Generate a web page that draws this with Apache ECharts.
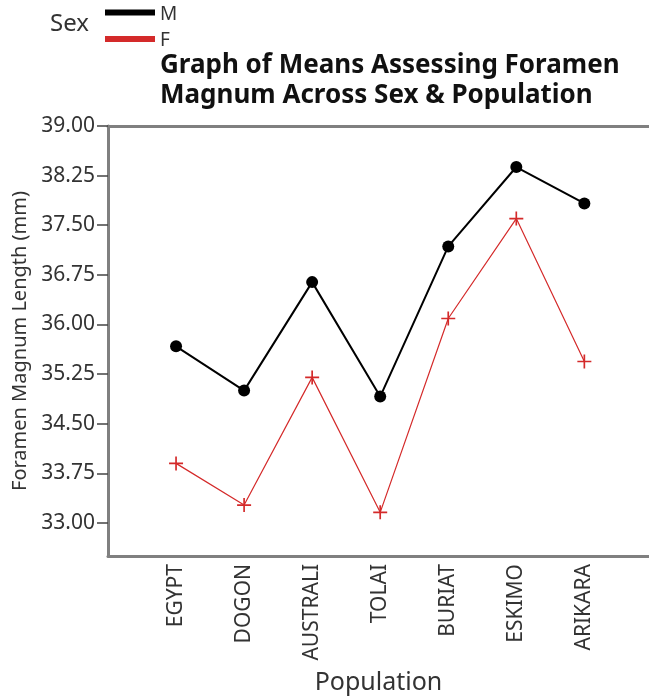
<!DOCTYPE html>
<html>
<head>
<meta charset="utf-8">
<style>
  html, body { margin: 0; padding: 0; background: #fff; }
  #chart { width: 649px; height: 698px; }
</style>
<script src="https://cdn.jsdelivr.net/npm/echarts@6/dist/echarts.min.js"></script>
</head>
<body>
<div id="chart"></div>
<script>
// Mean foramen magnum length (mm) by population, split by sex
const populations = ['EGYPT', 'DOGON', 'AUSTRALI', 'TOLAI', 'BURIAT', 'ESKIMO', 'ARIKARA'];
const maleMeans = [35.67, 35.00, 36.64, 34.91, 37.18, 38.38, 37.83];
const femaleMeans = [33.90, 33.27, 35.20, 33.16, 36.09, 37.60, 35.44];
const yTicks = [33.00, 33.75, 34.50, 35.25, 36.00, 36.75, 37.50, 38.25, 39.00];
const sexLabels = ['M', 'F'];

const FONT = '"Noto Sans", "Open Sans", sans-serif';
const AXIS_GREY = '#808080';
const TEXT = '#333333';
const RED = '#d42a2a';
const PLUS = 'path://M4.4,0H5.6V4.4H10V5.6H5.6V10H4.4V5.6H0V4.4H4.4Z';

const xIdx = populations.map((_, i) => i);
const toPoints = vals => vals.map((v, i) => [i, v]);

const chart = echarts.init(document.getElementById('chart'), null, { renderer: 'canvas' });

chart.setOption({
  backgroundColor: '#ffffff',
  animation: false,
  textStyle: { fontFamily: FONT },
  title: {
    text: 'Graph of Means Assessing Foramen\nMagnum Across Sex & Population',
    left: 160,
    top: 51,
    padding: 0,
    textStyle: { fontFamily: FONT, fontSize: 26, fontWeight: 'bold', color: '#111', lineHeight: 30 }
  },
  graphic: [{
    type: 'text',
    left: 50,
    top: 12,
    style: { text: 'Sex', fontFamily: FONT, fontSize: 24, fill: TEXT }
  }],
  legend: {
    data: sexLabels,
    orient: 'vertical',
    left: 105,
    top: 1,
    padding: 0,
    itemGap: 3.5,
    itemWidth: 50,
    itemHeight: 6,
    icon: 'rect',
    selectedMode: false,
    formatter: '{t|{name}}',
    textStyle: {
      fontFamily: FONT, fontSize: 19, color: TEXT, lineHeight: 18,
      rich: { t: { fontFamily: FONT, fontSize: 19, color: TEXT, lineHeight: 18, padding: [4, 0, 0, 0] } }
    }
  },
  grid: {
    left: 108,
    right: 0,
    top: 126,
    bottom: 142,
    containLabel: false,
    outerBoundsMode: 'none'
  },
  xAxis: [{
    type: 'value',
    min: -1,
    max: 6.95,
    position: 'bottom',
    axisLine: { show: true, onZero: false, lineStyle: { color: AXIS_GREY, width: 3 } },
    axisTick: { show: false },
    splitLine: { show: false },
    axisLabel: {
      customValues: xIdx,
      formatter: v => populations[Math.round(v)],
      rotate: 90,
      margin: 8,
      padding: [12, 0, 0, 0],
      fontFamily: FONT,
      fontSize: 21,
      color: TEXT
    },
    name: 'Population',
    nameLocation: 'middle',
    nameGap: 114,
    nameTextStyle: { fontFamily: FONT, fontSize: 25, color: TEXT }
  }, {
    type: 'value',
    min: -1,
    max: 6.95,
    position: 'top',
    axisLine: { show: true, onZero: false, lineStyle: { color: AXIS_GREY, width: 3 } },
    axisTick: { show: false },
    axisLabel: { show: false },
    splitLine: { show: false }
  }],
  yAxis: {
    type: 'value',
    min: 32.5,
    max: 39,
    axisLine: { show: true, onZero: false, lineStyle: { color: AXIS_GREY, width: 3 } },
    axisTick: { show: true, customValues: yTicks, length: 11, lineStyle: { color: '#444', width: 1.5 } },
    splitLine: { show: false },
    axisLabel: {
      customValues: yTicks,
      formatter: v => v.toFixed(2),
      margin: 13,
      fontFamily: FONT,
      fontSize: 21,
      color: TEXT
    },
    name: 'Foramen Magnum Length (mm)',
    nameLocation: 'middle',
    nameRotate: 90,
    nameGap: 74,
    nameTextStyle: { fontFamily: FONT, fontSize: 20, color: TEXT }
  },
  series: [{
    name: 'M',
    type: 'line',
    xAxisIndex: 0,
    data: toPoints(maleMeans),
    symbol: 'circle',
    symbolSize: 12,
    itemStyle: { color: '#000' },
    lineStyle: { color: '#000', width: 2 },
    z: 3
  }, {
    name: 'F',
    type: 'line',
    xAxisIndex: 0,
    data: toPoints(femaleMeans),
    symbol: PLUS,
    symbolSize: 14,
    itemStyle: { color: RED },
    lineStyle: { color: RED, width: 1.2 },
    z: 2
  }]
});
</script>
</body>
</html>
